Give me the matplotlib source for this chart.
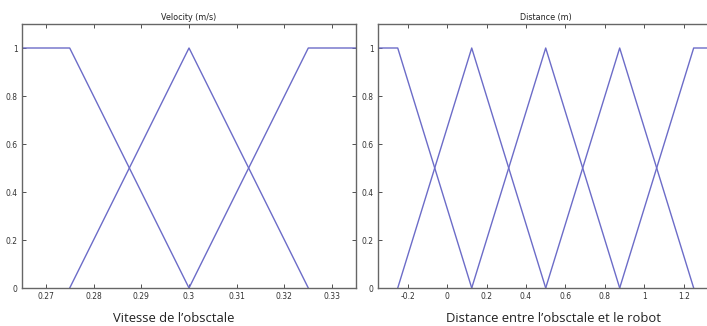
import numpy as np
import matplotlib.pyplot as plt

# membership functions (breakpoints)
vel_x = [[0.265, 0.275, 0.3], [0.275, 0.3, 0.325], [0.3, 0.325, 0.335]]
vel_y = [[1, 1, 0], [0, 1, 0], [0, 1, 1]]
vel_ticks = [0.27, 0.28, 0.29, 0.3, 0.31, 0.32, 0.33]
vel_labels = ['0.27', '0.28', '0.29', '0.3', '0.31', '0.32', '0.33']

dist_x = [[-0.35, -0.25, 0.125], [-0.25, 0.125, 0.5], [0.125, 0.5, 0.875],
          [0.5, 0.875, 1.25], [0.875, 1.25, 1.35]]
dist_y = [[1, 1, 0], [0, 1, 0], [0, 1, 0], [0, 1, 0], [0, 1, 1]]
dist_ticks = [-0.2, 0, 0.2, 0.4, 0.6, 0.8, 1, 1.2]
dist_labels = ['-0.2', '0', '0.2', '0.4', '0.6', '0.8', '1', '1.2']

y_ticks = [0, 0.2, 0.4, 0.6, 0.8, 1]
y_labels = ['0', '0.2', '0.4', '0.6', '0.8', '1']

W, H = 707, 326
fig = plt.figure(figsize=(W / 100, H / 100), dpi=100)

line_col = '#6c6cc8'
frame_col = '#666666'


def setup(ax, xs, ys, xlim, ticks, labels, title):
    for x, y in zip(xs, ys):
        ax.plot(x, y, color=line_col, lw=1.0)
    ax.set_xlim(xlim)
    ax.set_ylim(0, 1.1)
    ax.set_xticks(ticks)
    ax.set_xticklabels(labels)
    ax.set_yticks(y_ticks)
    ax.set_yticklabels(y_labels)
    ax.tick_params(direction='in', length=3, width=0.6, colors='#333333',
                   labelsize=5.5, top=True, right=True, pad=3)
    for s in ax.spines.values():
        s.set_color(frame_col)
        s.set_linewidth(1.0)
    ax.set_title(title, fontsize=5.8, pad=3, color='#222222')


# left panel: 22 .. 356 px, y 24 .. 288 px
ax1 = fig.add_axes([22 / W, (H - 288) / H, (356 - 22) / W, (288 - 24) / H])
setup(ax1, vel_x, vel_y, (0.265, 0.335), vel_ticks, vel_labels, 'Velocity (m/s)')

# right panel: starts at 378 px, runs past the image edge (cropped)
ax2 = fig.add_axes([378 / W, (H - 288) / H, 335.4 / W, (288 - 24) / H])
setup(ax2, dist_x, dist_y, (-0.35, 1.35), dist_ticks, dist_labels, 'Distance (m)')

fig.text(174 / W, 1 - 318 / H, 'Vitesse de l\u2019obsctale', ha='center', va='center',
         fontsize=9.4, family='Open Sans', color='#222222')
fig.text(554 / W, 1 - 318 / H, 'Distance entre l\u2019obsctale et le robot', ha='center',
         va='center', fontsize=9.4, family='Open Sans', color='#222222')

fig.savefig('out.png', dpi=100)
